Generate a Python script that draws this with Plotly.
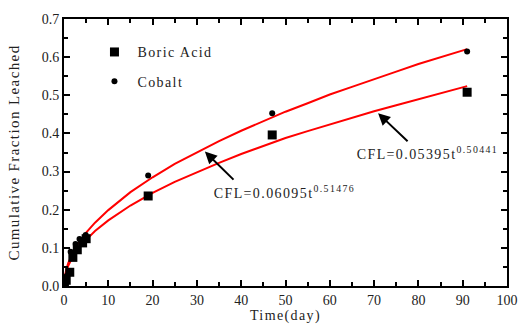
import plotly.graph_objects as go

# Measured data
boric_t = [0.1, 0.5, 1.3, 2.0, 3.0, 4.2, 5.0, 19.0, 47.0, 91.0]
boric_v = [0.005, 0.015, 0.036, 0.075, 0.095, 0.113, 0.124, 0.236, 0.396, 0.508]
cobalt_t = [0.1, 0.6, 1.5, 2.6, 3.5, 4.9, 19.0, 47.0, 91.0]
cobalt_v = [0.010, 0.026, 0.090, 0.110, 0.123, 0.134, 0.290, 0.453, 0.615]

# Fitted curves
fit_t = [0.05, 0.2, 0.5, 1, 2, 3, 5, 7, 10, 15, 20, 25, 30, 35, 40, 45, 50, 55, 60, 65, 70, 75, 80, 85, 91]
fit_cobalt = [0.013, 0.027, 0.043, 0.061, 0.087, 0.107, 0.140, 0.166, 0.199, 0.246, 0.285, 0.320, 0.351, 0.380, 0.407, 0.432, 0.457, 0.479, 0.502, 0.522, 0.543, 0.562, 0.582, 0.600, 0.621]
fit_boric = [0.012, 0.024, 0.038, 0.054, 0.077, 0.094, 0.121, 0.144, 0.172, 0.211, 0.244, 0.273, 0.299, 0.323, 0.346, 0.367, 0.388, 0.406, 0.424, 0.441, 0.458, 0.474, 0.490, 0.505, 0.524]

x_ticks = [0, 10, 20, 30, 40, 50, 60, 70, 80, 90, 100]
y_ticks = [0.0, 0.1, 0.2, 0.3, 0.4, 0.5, 0.6, 0.7]

SERIF = "Liberation Serif, Times New Roman, serif"

fig = go.Figure()
fig.add_trace(go.Scatter(x=fit_t, y=fit_boric, mode="lines", line=dict(color="#ff0000", width=2),
                         showlegend=False, hoverinfo="skip"))
fig.add_trace(go.Scatter(x=fit_t, y=fit_cobalt, mode="lines", line=dict(color="#ff0000", width=2),
                         showlegend=False, hoverinfo="skip"))
fig.add_trace(go.Scatter(x=boric_t, y=boric_v, mode="markers", name="Boric Acid",
                         legendgroup="b", marker=dict(symbol="square", size=9, color="black")))
fig.add_trace(go.Scatter(x=cobalt_t, y=cobalt_v, mode="markers", name="Cobalt",
                         legendgroup="c", marker=dict(symbol="circle", size=6, color="black")))

axis_common = dict(
    showline=True, linecolor="black", linewidth=2, mirror="allticks",
    ticks="inside", ticklen=6, tickwidth=2, tickcolor="black",
    showgrid=False, zeroline=False,
    tickfont=dict(family=SERIF, size=14, color="#222"),
)

fig.update_xaxes(range=[0, 100], tickvals=x_ticks, ticktext=[str(v) for v in x_ticks],
                 minor=dict(dtick=5, tick0=0, ticks="inside", ticklen=4, tickwidth=1.5, tickcolor="black"),
                 title=dict(text="Time(day)", font=dict(family=SERIF, size=14, color="#222"), standoff=2),
                 **axis_common)
fig.update_yaxes(range=[0, 0.7], tickvals=y_ticks, ticktext=[f"{v:.1f}" for v in y_ticks],
                 minor=dict(dtick=0.05, tick0=0, ticks="inside", ticklen=4, tickwidth=1.5, tickcolor="black"),
                 title=dict(text="Cumulative Fraction Leached", font=dict(family=SERIF, size=15, color="#222"), standoff=18),
                 **axis_common)

# Arrows
fig.add_annotation(x=31.8, y=0.3525, ax=38.6, ay=0.275, axref="x", ayref="y", xref="x", yref="y",
                   text="", showarrow=True, arrowhead=2, arrowsize=1.2, arrowwidth=2, arrowcolor="black")
fig.add_annotation(x=70.9, y=0.453, ax=77.9, ay=0.376, axref="x", ayref="y", xref="x", yref="y",
                   text="", showarrow=True, arrowhead=2, arrowsize=1.2, arrowwidth=2, arrowcolor="black")
# Equation labels
fig.add_annotation(x=36.3, y=0.247, xref="x", yref="y", xanchor="left", yanchor="middle",
                   text="CFL=0.06095t<sup>0.51476</sup>", showarrow=False,
                   font=dict(family=SERIF, size=14, color="#222"))
fig.add_annotation(x=68.6, y=0.350, xref="x", yref="y", xanchor="left", yanchor="middle",
                   text="CFL=0.05395t<sup>0.50441</sup>", showarrow=False,
                   font=dict(family=SERIF, size=14, color="#222"))

fig.update_layout(
    width=530, height=332,
    margin=dict(l=64, r=13, t=15, b=45),
    paper_bgcolor="white", plot_bgcolor="white",
    legend=dict(x=0.062, y=0.935, xanchor="left", yanchor="top", bgcolor="rgba(0,0,0,0)",
                font=dict(family=SERIF, size=14, color="#222"), traceorder="grouped",
                tracegroupgap=8, itemwidth=36),
)

post = """
document.querySelectorAll('.legendtext, .annotation-text, .xtitle, .ytitle').forEach(function(e){
  e.style.letterSpacing = '1.4px';
});
document.querySelectorAll('.legend .scrollbox, .legend').forEach(function(e){
  e.removeAttribute('clip-path');
});
"""
fig.write_html("out.html", post_script=post)
